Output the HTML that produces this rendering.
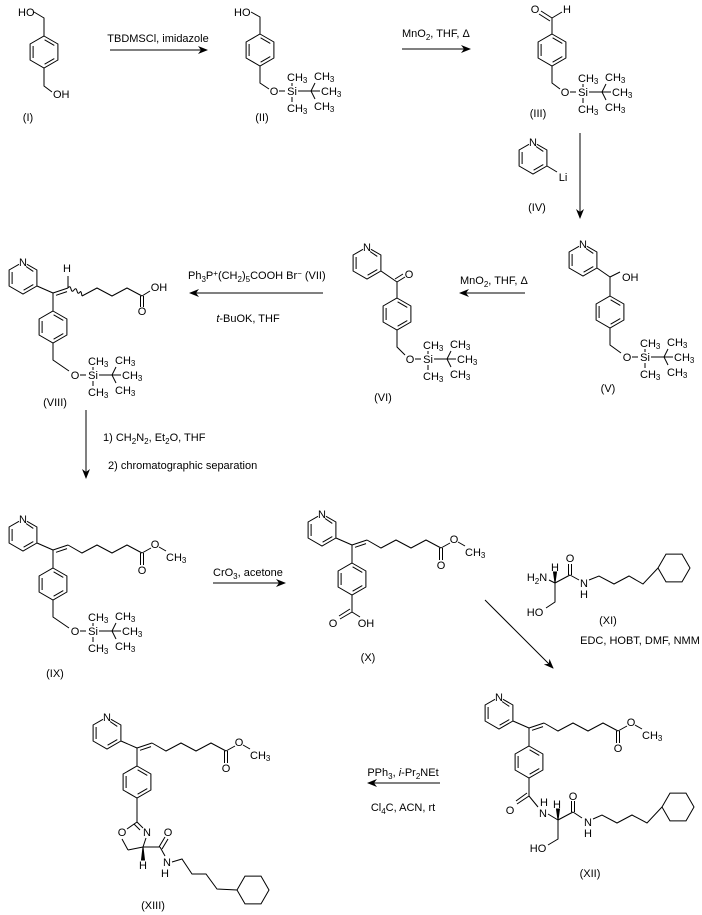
<!DOCTYPE html>
<html><head><meta charset="utf-8"><style>
html,body{margin:0;padding:0;background:#fff;}
svg{display:block;font-family:"Liberation Sans",Arial,sans-serif;font-size:11px;}
line,polyline,polygon,path{stroke:#000;stroke-width:1;fill:none;}
text{fill:#000;stroke:none;}
.m{text-anchor:middle;}
.s{font-size:8px;}
</style></head><body>
<svg width="702" height="915" viewBox="0 0 702 915" xmlns="http://www.w3.org/2000/svg">
<defs>
<marker id="ah" viewBox="0 0 10 8" refX="9" refY="4" markerWidth="10" markerHeight="8" orient="auto" markerUnits="userSpaceOnUse"><path d="M0,0 L10,4 L0,8 L3,4z" style="fill:#000;stroke:none"/></marker>
<g id="bz"><polygon points="0,-16 13.9,-8 13.9,8 0,16 -13.9,8 -13.9,-8"/><line x1="-10.9" y1="-6" x2="-10.9" y2="6"/><line x1="0.6" y1="-12.2" x2="10.3" y2="-6.6"/><line x1="10.3" y1="6.6" x2="0.6" y2="12.2"/></g>
<g id="py"><polyline points="4,-13.7 13.9,-8 13.9,8 0,16 -13.9,8 -13.9,-8 -4,-13.7"/><line x1="-10.9" y1="-6" x2="-10.9" y2="6"/><line x1="3" y1="-11.5" x2="10.3" y2="-6.6"/><line x1="10.3" y1="6.6" x2="0.6" y2="12.2"/></g>
<g id="cy"><polygon points="-16,0 -8,-13.9 8,-13.9 16,0 8,13.9 -8,13.9"/></g>
<g id="core"><use href="#py" x="-30" y="-15"/><line x1="0" y1="0" x2="-16" y2="-7"/><line x1="0" y1="0" x2="0" y2="18"/><use href="#bz" x="0" y="34"/><line x1="0" y1="0" x2="15" y2="-5"/><line x1="3" y1="2.3" x2="14" y2="-1.4"/></g>
<g id="est"><polyline points="15,-5 29,3 44,-5 59,3 74,-5 89,3"/><line x1="87.5" y1="3" x2="87.5" y2="15"/><line x1="90.5" y1="3" x2="90.5" y2="15"/><line x1="89" y1="3" x2="98" y2="-2"/><line x1="106" y1="-3" x2="113" y2="1"/></g>
<g id="tbsl"><line x1="5" y1="0" x2="11" y2="0"/><line x1="18" y1="-5" x2="18" y2="-8"/><line x1="18" y1="6" x2="18" y2="11"/><line x1="24" y1="0" x2="37" y2="0"/><line x1="37" y1="0" x2="41" y2="-8"/><line x1="37" y1="0" x2="46" y2="0"/><line x1="37" y1="0" x2="41" y2="8"/></g>
</defs>

<!-- (I) -->
<use href="#bz" x="44" y="52"/>
<polyline points="44,36 44,18 34,12"/><text x="18" y="16">HO</text>
<polyline points="44,68 44,86 52,92"/><text x="53" y="98">OH</text>
<text x="28" y="121" class="m">(I)</text>

<line x1="110" y1="50" x2="207" y2="50" marker-end="url(#ah)"/>
<text x="158" y="42" class="m">TBDMSCl, imidazole</text>

<!-- (II) -->
<use href="#bz" x="260" y="50"/>
<polyline points="260,34 260,17 251,12"/><text x="234" y="16">HO</text>
<polyline points="260,66 260,83 269,89"/>
<g transform="translate(274,91)"><use href="#tbsl"/><text x="0" y="4" class="m">O</text><text x="18" y="4" class="m">Si</text><text x="13" y="-10">CH<tspan class="s" dy="2">3</tspan></text><text x="13" y="21">CH<tspan class="s" dy="2">3</tspan></text><text x="40" y="-11">CH<tspan class="s" dy="2">3</tspan></text><text x="47" y="4">CH<tspan class="s" dy="2">3</tspan></text><text x="40" y="19">CH<tspan class="s" dy="2">3</tspan></text></g>
<text x="262" y="121" class="m">(II)</text>

<line x1="402" y1="49" x2="470" y2="49" marker-end="url(#ah)"/>
<text x="402" y="37">MnO<tspan class="s" dy="3">2</tspan><tspan dy="-3">, THF, Δ</tspan></text>

<!-- (III) -->
<use href="#bz" x="552" y="50"/>
<line x1="552" y1="34" x2="552" y2="18"/>
<line x1="552" y1="18" x2="541" y2="11"/><line x1="550" y1="21" x2="539" y2="14"/>
<line x1="552" y1="18" x2="562" y2="12"/>
<text x="535" y="13" class="m">O</text><text x="567" y="13" class="m">H</text>
<polyline points="552,66 552,83 560,89"/>
<g transform="translate(565,92)"><use href="#tbsl"/><text x="0" y="4" class="m">O</text><text x="18" y="4" class="m">Si</text><text x="13" y="-10">CH<tspan class="s" dy="2">3</tspan></text><text x="13" y="21">CH<tspan class="s" dy="2">3</tspan></text><text x="40" y="-11">CH<tspan class="s" dy="2">3</tspan></text><text x="47" y="4">CH<tspan class="s" dy="2">3</tspan></text><text x="40" y="19">CH<tspan class="s" dy="2">3</tspan></text></g>
<text x="538" y="117" class="m">(III)</text>

<!-- (IV) -->
<use href="#py" x="533" y="158"/><text x="533" y="146" class="m">N</text>
<line x1="547" y1="166" x2="557" y2="172"/><text x="563" y="181" class="m">Li</text>
<text x="537" y="211" class="m">(IV)</text>
<line x1="580" y1="133" x2="580" y2="218" marker-end="url(#ah)"/>

<!-- (V) -->
<use href="#py" x="583" y="260"/><text x="583" y="248" class="m">N</text>
<line x1="597" y1="268" x2="610" y2="277"/><line x1="610" y1="277" x2="620" y2="272"/>
<text x="622" y="281">OH</text>
<line x1="610" y1="277" x2="610" y2="296"/>
<use href="#bz" x="610" y="312"/>
<polyline points="610,328 610,345 621,353"/>
<g transform="translate(627,357)"><use href="#tbsl"/><text x="0" y="4" class="m">O</text><text x="18" y="4" class="m">Si</text><text x="13" y="-10">CH<tspan class="s" dy="2">3</tspan></text><text x="13" y="21">CH<tspan class="s" dy="2">3</tspan></text><text x="40" y="-11">CH<tspan class="s" dy="2">3</tspan></text><text x="47" y="4">CH<tspan class="s" dy="2">3</tspan></text><text x="40" y="19">CH<tspan class="s" dy="2">3</tspan></text></g>
<text x="608" y="392" class="m">(V)</text>

<line x1="525" y1="293" x2="460" y2="293" marker-end="url(#ah)"/>
<text x="460" y="284">MnO<tspan class="s" dy="3">2</tspan><tspan dy="-3">, THF, Δ</tspan></text>

<!-- (VI) -->
<use href="#py" x="367" y="263"/><text x="367" y="251" class="m">N</text>
<line x1="381" y1="271" x2="397" y2="282"/>
<line x1="397" y1="282" x2="405" y2="277"/><line x1="395" y1="279" x2="403" y2="274"/>
<text x="409" y="278" class="m">O</text>
<line x1="397" y1="282" x2="397" y2="298"/>
<use href="#bz" x="397" y="314"/>
<polyline points="397,330 397,347 405,355"/>
<g transform="translate(410,359)"><use href="#tbsl"/><text x="0" y="4" class="m">O</text><text x="18" y="4" class="m">Si</text><text x="13" y="-10">CH<tspan class="s" dy="2">3</tspan></text><text x="13" y="21">CH<tspan class="s" dy="2">3</tspan></text><text x="40" y="-11">CH<tspan class="s" dy="2">3</tspan></text><text x="47" y="4">CH<tspan class="s" dy="2">3</tspan></text><text x="40" y="19">CH<tspan class="s" dy="2">3</tspan></text></g>
<text x="383" y="401" class="m">(VI)</text>

<line x1="323" y1="293" x2="190" y2="293" marker-end="url(#ah)"/>
<text x="188" y="279">Ph<tspan class="s" dy="3">3</tspan><tspan dy="-3">P</tspan><tspan class="s" dy="-3">+</tspan><tspan dy="3">(CH</tspan><tspan class="s" dy="3">2</tspan><tspan dy="-3">)</tspan><tspan class="s" dy="3">5</tspan><tspan dy="-3">COOH Br</tspan><tspan class="s" dy="-3">−</tspan><tspan dy="3">  (VII)</tspan></text>
<text x="248" y="322" class="m"><tspan font-style="italic">t</tspan>-BuOK, THF</text>

<!-- (VIII) -->
<g transform="translate(53,293)">
<use href="#core"/>
<text x="-30" y="-27" class="m">N</text>
<line x1="15" y1="-5" x2="15" y2="-17"/><text x="14" y="-21" class="m">H</text>
<path d="M15,-5 q2,-3 3,1 q1,4 3,1 q2,-3 3,1 q1,4 3,1 q1,-2 2,4"/>
<polyline points="29,3 44,-5 59,3 74,-5 89,3"/>
<line x1="87.5" y1="3" x2="87.5" y2="14"/><line x1="90.5" y1="3" x2="90.5" y2="14"/>
<text x="89" y="22" class="m">O</text>
<line x1="89" y1="3" x2="97" y2="-2"/><text x="106" y="-2" class="m">OH</text>
<polyline points="0,50 0,67 16,78"/>
</g>
<g transform="translate(75,375)"><use href="#tbsl"/><text x="0" y="4" class="m">O</text><text x="18" y="4" class="m">Si</text><text x="13" y="-10">CH<tspan class="s" dy="2">3</tspan></text><text x="13" y="21">CH<tspan class="s" dy="2">3</tspan></text><text x="40" y="-11">CH<tspan class="s" dy="2">3</tspan></text><text x="47" y="4">CH<tspan class="s" dy="2">3</tspan></text><text x="40" y="19">CH<tspan class="s" dy="2">3</tspan></text></g>
<text x="55" y="406" class="m">(VIII)</text>

<line x1="86" y1="410" x2="86" y2="478" marker-end="url(#ah)"/>
<text x="103" y="441">1) CH<tspan class="s" dy="3">2</tspan><tspan dy="-3">N</tspan><tspan class="s" dy="3">2</tspan><tspan dy="-3">, Et</tspan><tspan class="s" dy="3">2</tspan><tspan dy="-3">O, THF</tspan></text>
<text x="108" y="469">2) chromatographic separation</text>

<!-- (IX) -->
<g transform="translate(53,550)">
<use href="#core"/><use href="#est"/>
<text x="-30" y="-27" class="m">N</text>
<text x="89" y="24" class="m">O</text><text x="102" y="-2" class="m">O</text>
<text x="113" y="11">CH<tspan class="s" dy="2">3</tspan></text>
<polyline points="0,50 0,67 16,78"/>
</g>
<g transform="translate(75,631)"><use href="#tbsl"/><text x="0" y="4" class="m">O</text><text x="18" y="4" class="m">Si</text><text x="13" y="-10">CH<tspan class="s" dy="2">3</tspan></text><text x="13" y="21">CH<tspan class="s" dy="2">3</tspan></text><text x="40" y="-11">CH<tspan class="s" dy="2">3</tspan></text><text x="47" y="4">CH<tspan class="s" dy="2">3</tspan></text><text x="40" y="19">CH<tspan class="s" dy="2">3</tspan></text></g>
<text x="55" y="677" class="m">(IX)</text>

<line x1="213" y1="583" x2="285" y2="583" marker-end="url(#ah)"/>
<text x="213" y="576">CrO<tspan class="s" dy="3">3</tspan><tspan dy="-3">, acetone</tspan></text>

<!-- (X) -->
<g transform="translate(352,545)">
<use href="#core"/><use href="#est"/>
<text x="-30" y="-27" class="m">N</text>
<text x="89" y="24" class="m">O</text><text x="102" y="-2" class="m">O</text>
<text x="113" y="11">CH<tspan class="s" dy="2">3</tspan></text>
<line x1="0" y1="50" x2="0" y2="67"/>
<line x1="0" y1="67" x2="-12" y2="74"/><line x1="-2" y1="64" x2="-13" y2="71"/>
<line x1="0" y1="67" x2="8" y2="72"/>
<text x="-19" y="82" class="m">O</text><text x="14" y="82" class="m">OH</text>
</g>
<text x="368" y="661" class="m">(X)</text>

<!-- (XI) -->
<text x="537" y="581" class="m">H<tspan class="s" dy="3">2</tspan><tspan dy="-3">N</tspan></text>
<line x1="549" y1="580" x2="555" y2="583"/>
<polygon points="555,583 553.5,572 556.5,572" style="fill:#000"/>
<text x="555" y="571" class="m">H</text>
<line x1="555" y1="583" x2="570" y2="575"/>
<line x1="568.5" y1="575" x2="568.5" y2="564"/><line x1="571.5" y1="575" x2="571.5" y2="564"/>
<text x="570" y="562" class="m">O</text>
<line x1="570" y1="575" x2="579" y2="580"/>
<text x="584" y="587" class="m">N</text><text x="584" y="598" class="m">H</text>
<polyline points="589,580 599,576 614,584 629,576 643,584 658,568"/>
<use href="#cy" x="674" y="568"/>
<polyline points="555,583 555,602 546,608"/>
<text x="535" y="616" class="m">HO</text>
<text x="608" y="624" class="m">(XI)</text>
<text x="640" y="644" class="m">EDC, HOBT, DMF, NMM</text>

<line x1="485" y1="600" x2="553" y2="668" marker-end="url(#ah)"/>

<!-- (XII) -->
<g transform="translate(529,728)">
<use href="#core"/><use href="#est"/>
<text x="-30" y="-27" class="m">N</text>
<text x="89" y="24" class="m">O</text><text x="102" y="-2" class="m">O</text>
<text x="113" y="11">CH<tspan class="s" dy="2">3</tspan></text>
<line x1="0" y1="50" x2="0" y2="68"/>
<line x1="0" y1="68" x2="-12" y2="76"/><line x1="-2" y1="65" x2="-13" y2="73"/>
<line x1="0" y1="68" x2="9" y2="79"/>
</g>
<text x="510" y="814" class="m">O</text>
<text x="543" y="817" class="m">N</text><text x="544" y="806" class="m">H</text>
<line x1="548" y1="814" x2="558" y2="820"/>
<polygon points="558,820 556.5,809 559.5,809" style="fill:#000"/>
<text x="557" y="808" class="m">H</text>
<line x1="558" y1="820" x2="573" y2="812"/>
<line x1="571.5" y1="812" x2="571.5" y2="801"/><line x1="574.5" y1="812" x2="574.5" y2="801"/>
<text x="573" y="800" class="m">O</text>
<line x1="573" y1="812" x2="582" y2="818"/>
<text x="588" y="826" class="m">N</text><text x="588" y="837" class="m">H</text>
<polyline points="593,819 602,815 617,823 632,815 647,823 662,807"/>
<use href="#cy" x="678" y="807"/>
<polyline points="558,820 558,839 548,845"/>
<text x="538" y="852" class="m">HO</text>
<text x="590" y="877" class="m">(XII)</text>

<line x1="440" y1="783" x2="368" y2="783" marker-end="url(#ah)"/>
<text x="403" y="776" class="m">PPh<tspan class="s" dy="3">3</tspan><tspan dy="-3">, </tspan><tspan font-style="italic">i</tspan>-Pr<tspan class="s" dy="3">2</tspan><tspan dy="-3">NEt</tspan></text>
<text x="403" y="811" class="m">Cl<tspan class="s" dy="3">4</tspan><tspan dy="-3">C, ACN, rt</tspan></text>

<!-- (XIII) -->
<g transform="translate(137,748)">
<use href="#core"/><use href="#est"/>
<text x="-30" y="-27" class="m">N</text>
<text x="89" y="24" class="m">O</text><text x="102" y="-2" class="m">O</text>
<text x="113" y="11">CH<tspan class="s" dy="2">3</tspan></text>
<line x1="0" y1="50" x2="0" y2="74"/>
</g>
<line x1="137" y1="822" x2="127" y2="829"/>
<line x1="137" y1="822" x2="143" y2="828"/><line x1="134" y1="824" x2="140" y2="830"/>
<text x="122" y="836" class="m">O</text><text x="147" y="836" class="m">N</text>
<line x1="146" y1="838" x2="143" y2="847"/>
<line x1="143" y1="847" x2="128" y2="850"/>
<line x1="128" y1="850" x2="122" y2="839"/>
<polygon points="143,847 141.5,860 144.5,860" style="fill:#000"/>
<text x="143" y="869" class="m">H</text>
<line x1="143" y1="847" x2="160" y2="847"/>
<line x1="159" y1="847" x2="165" y2="837"/><line x1="162" y1="849" x2="168" y2="839"/>
<text x="168" y="836" class="m">O</text>
<line x1="160" y1="847" x2="165" y2="856"/>
<text x="167" y="866" class="m">N</text><text x="165" y="877" class="m">H</text>
<polyline points="172,862 182,859 192,874 206,874 217,889 237,890"/>
<use href="#cy" x="253" y="890"/>
<text x="153" y="909" class="m">(XIII)</text>
</svg>
</body></html>
